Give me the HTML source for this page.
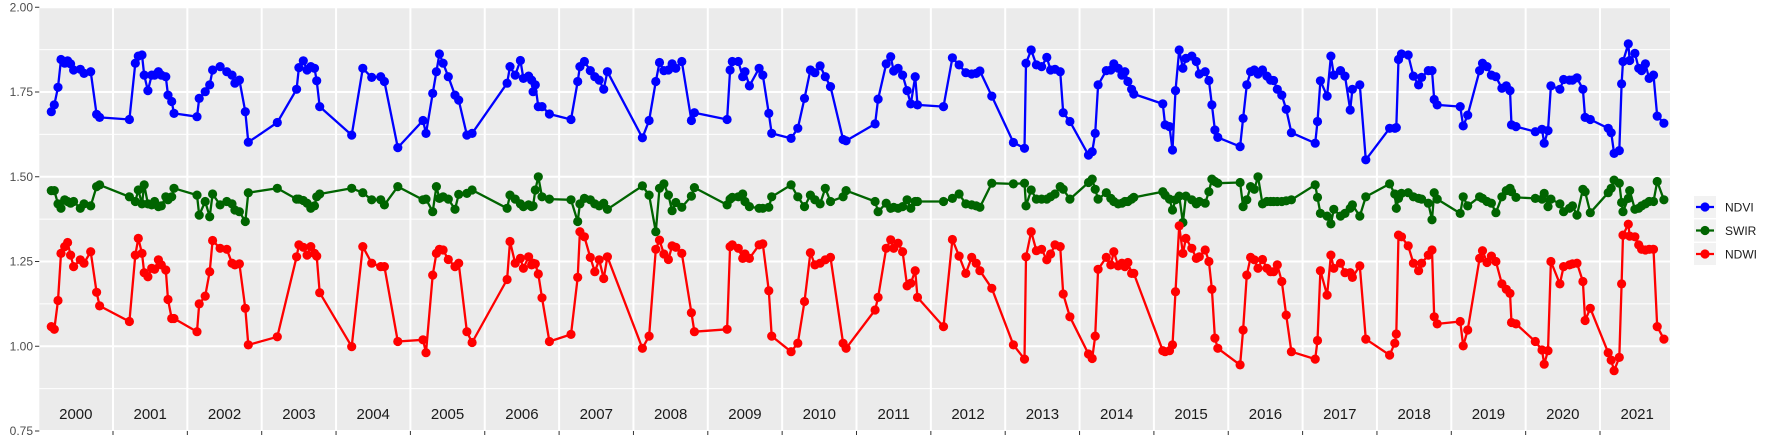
<!DOCTYPE html>
<html><head><meta charset="utf-8"><style>
html,body{margin:0;padding:0;background:#fff;}
svg{display:block;font-family:"Liberation Sans",sans-serif;}
</style></head><body>
<svg id="chart" width="1773" height="442" viewBox="0 0 1773 442" xmlns="http://www.w3.org/2000/svg">
<g id="panel"></g>
<g id="yaxis"></g>
<g id="xaxis"></g>
<g id="series"></g>
<g id="legend"></g>
</svg>
<script>
const dates = [
2000.17,2000.21,2000.26,2000.30,2000.35,2000.39,2000.43,2000.47,2000.56,2000.61,2000.70,2000.78,2000.82,
2001.22,2001.30,2001.34,2001.39,2001.42,2001.47,2001.52,2001.56,2001.61,2001.65,2001.71,2001.74,2001.79,2001.82,
2002.13,2002.16,2002.24,2002.30,2002.34,2002.44,2002.53,2002.60,2002.64,2002.70,2002.78,2002.82,
2003.21,2003.47,2003.50,2003.56,2003.61,2003.66,2003.71,2003.74,2003.78,
2004.21,2004.36,2004.48,2004.60,2004.65,2004.83,
2005.17,2005.21,2005.30,2005.35,2005.39,2005.44,2005.51,2005.60,2005.65,2005.76,2005.83,
2006.30,2006.34,2006.41,2006.48,2006.52,2006.59,2006.63,2006.65,2006.68,2006.72,2006.77,2006.87,
2007.16,2007.25,2007.28,2007.34,2007.42,2007.48,2007.54,2007.60,2007.65,
2008.12,2008.21,2008.30,2008.35,2008.41,2008.47,2008.52,2008.57,2008.65,2008.78,2008.82,
2009.26,2009.30,2009.33,2009.41,2009.47,2009.50,2009.56,2009.69,2009.74,2009.82,2009.86,
2010.12,2010.21,2010.30,2010.38,2010.44,2010.51,2010.58,2010.65,2010.82,2010.86,
2011.25,2011.29,2011.40,2011.46,2011.50,2011.56,2011.62,2011.68,2011.73,2011.79,2011.82,
2012.17,2012.29,2012.38,2012.47,2012.55,2012.61,2012.66,2012.82,
2013.11,2013.26,2013.28,2013.35,2013.42,2013.49,2013.56,2013.61,2013.67,2013.74,2013.78,2013.87,
2014.12,2014.17,2014.21,2014.25,2014.36,2014.42,2014.46,2014.52,2014.57,2014.61,2014.65,2014.70,2014.73,
2015.12,2015.15,2015.21,2015.25,2015.29,2015.34,2015.39,2015.43,2015.51,2015.57,2015.61,2015.69,2015.74,2015.78,2015.82,2015.86,
2016.16,2016.20,2016.25,2016.30,2016.35,2016.40,2016.46,2016.52,2016.57,2016.61,2016.66,2016.72,2016.78,2016.85,
2017.17,2017.20,2017.24,2017.33,2017.38,2017.42,2017.51,2017.57,2017.64,2017.67,2017.77,2017.85,
2018.17,2018.24,2018.26,2018.29,2018.33,2018.42,2018.49,2018.56,2018.60,2018.69,2018.74,2018.77,2018.81,
2019.12,2019.16,2019.22,2019.38,2019.42,2019.48,2019.54,2019.60,2019.68,2019.74,2019.79,2019.81,2019.87,
2020.13,2020.22,2020.25,2020.30,2020.34,2020.46,2020.51,2020.59,2020.63,2020.69,2020.77,2020.80,2020.87,
2021.11,2021.15,2021.19,2021.26,2021.29,2021.31,2021.38,2021.40,2021.47,2021.52,2021.56,2021.61,2021.66,2021.72,2021.77,2021.86
];
const ndvi = [
1.692,1.712,1.764,1.846,1.835,1.842,1.833,1.815,1.817,1.805,1.810,1.684,1.675,
1.669,1.835,1.856,1.859,1.800,1.754,1.800,1.800,1.810,1.800,1.795,1.741,1.722,1.687,
1.677,1.731,1.751,1.771,1.815,1.825,1.810,1.800,1.776,1.785,1.692,1.602,
1.660,1.758,1.822,1.842,1.815,1.825,1.820,1.783,1.707,
1.623,1.820,1.793,1.795,1.781,1.586,
1.666,1.628,1.746,1.810,1.862,1.835,1.795,1.741,1.726,1.623,1.628,
1.776,1.825,1.800,1.843,1.790,1.797,1.785,1.751,1.771,1.707,1.707,1.685,
1.669,1.781,1.825,1.840,1.813,1.795,1.785,1.758,1.810,
1.615,1.666,1.781,1.837,1.813,1.815,1.833,1.820,1.840,1.666,1.689,
1.669,1.815,1.840,1.840,1.795,1.810,1.768,1.820,1.800,1.687,1.628,
1.613,1.643,1.731,1.815,1.807,1.827,1.795,1.766,1.610,1.606,
1.656,1.729,1.833,1.854,1.812,1.820,1.800,1.754,1.715,1.795,1.712,
1.707,1.851,1.830,1.807,1.803,1.805,1.812,1.738,
1.601,1.584,1.835,1.874,1.830,1.825,1.852,1.815,1.817,1.810,1.689,1.663,
1.564,1.574,1.628,1.771,1.813,1.815,1.833,1.820,1.800,1.810,1.781,1.758,1.744,
1.715,1.653,1.648,1.579,1.754,1.874,1.820,1.849,1.856,1.840,1.803,1.810,1.784,1.712,1.638,1.616,
1.589,1.672,1.771,1.810,1.815,1.803,1.815,1.797,1.785,1.784,1.758,1.741,1.699,1.630,
1.599,1.663,1.783,1.738,1.856,1.800,1.813,1.797,1.697,1.758,1.771,1.550,
1.643,1.643,1.645,1.846,1.862,1.859,1.797,1.771,1.793,1.813,1.813,1.728,1.712,
1.707,1.650,1.682,1.813,1.835,1.825,1.800,1.795,1.761,1.768,1.754,1.653,1.648,
1.633,1.640,1.599,1.636,1.768,1.758,1.787,1.785,1.785,1.792,1.758,1.675,1.669,
1.643,1.630,1.569,1.577,1.774,1.840,1.892,1.843,1.864,1.820,1.813,1.833,1.790,1.800,1.679,1.658
];
const swir = [
1.459,1.459,1.420,1.407,1.432,1.427,1.422,1.427,1.407,1.420,1.414,1.471,1.476,
1.441,1.427,1.461,1.420,1.476,1.420,1.417,1.427,1.412,1.414,1.441,1.432,1.441,1.466,
1.446,1.387,1.427,1.382,1.449,1.417,1.427,1.420,1.402,1.397,1.368,1.453,
1.466,1.434,1.434,1.430,1.422,1.407,1.414,1.441,1.449,
1.466,1.453,1.432,1.432,1.417,1.471,
1.432,1.434,1.397,1.471,1.436,1.441,1.434,1.404,1.448,1.451,1.461,
1.407,1.446,1.434,1.420,1.412,1.417,1.412,1.414,1.461,1.500,1.441,1.434,
1.432,1.368,1.420,1.436,1.432,1.420,1.414,1.422,1.404,
1.473,1.446,1.338,1.466,1.479,1.446,1.400,1.424,1.410,1.443,1.468,
1.417,1.434,1.439,1.441,1.449,1.427,1.412,1.407,1.407,1.410,1.441,
1.476,1.441,1.412,1.446,1.432,1.420,1.466,1.427,1.441,1.459,
1.427,1.397,1.422,1.407,1.410,1.407,1.412,1.432,1.407,1.427,1.427,
1.427,1.436,1.449,1.420,1.417,1.414,1.410,1.481,
1.479,1.481,1.414,1.461,1.434,1.434,1.434,1.441,1.449,1.471,1.463,1.434,
1.483,1.493,1.463,1.434,1.453,1.436,1.427,1.420,1.422,1.427,1.427,1.434,1.439,
1.456,1.446,1.434,1.402,1.432,1.443,1.365,1.443,1.432,1.420,1.427,1.422,1.456,1.493,1.486,1.481,
1.483,1.412,1.432,1.471,1.463,1.500,1.420,1.427,1.427,1.427,1.427,1.427,1.429,1.432,
1.476,1.439,1.392,1.384,1.361,1.404,1.384,1.392,1.407,1.417,1.384,1.441,
1.479,1.449,1.407,1.436,1.451,1.453,1.441,1.436,1.434,1.422,1.373,1.453,1.434,
1.392,1.441,1.414,1.441,1.436,1.427,1.422,1.394,1.441,1.459,1.466,1.456,1.439,
1.436,1.434,1.451,1.412,1.434,1.420,1.397,1.407,1.414,1.387,1.463,1.456,1.394,
1.453,1.466,1.490,1.481,1.424,1.397,1.436,1.459,1.404,1.407,1.414,1.420,1.427,1.427,1.486,1.432
];
const ndwi = [
1.058,1.050,1.135,1.274,1.294,1.306,1.269,1.235,1.255,1.245,1.279,1.159,1.119,
1.073,1.269,1.318,1.274,1.217,1.205,1.230,1.227,1.255,1.240,1.225,1.138,1.082,1.082,
1.043,1.125,1.148,1.220,1.312,1.289,1.286,1.245,1.240,1.243,1.112,1.004,
1.028,1.264,1.299,1.292,1.269,1.294,1.274,1.266,1.158,
0.999,1.294,1.245,1.235,1.235,1.014,
1.019,0.981,1.210,1.274,1.286,1.284,1.256,1.235,1.245,1.043,1.011,
1.197,1.309,1.245,1.259,1.230,1.264,1.240,1.245,1.243,1.213,1.143,1.014,
1.035,1.203,1.338,1.323,1.262,1.220,1.255,1.200,1.264,
0.994,1.030,1.286,1.313,1.272,1.256,1.296,1.292,1.274,1.099,1.043,
1.050,1.294,1.299,1.289,1.259,1.272,1.259,1.299,1.302,1.164,1.030,
0.984,1.009,1.132,1.276,1.240,1.245,1.255,1.262,1.009,0.994,
1.107,1.144,1.289,1.314,1.289,1.304,1.279,1.178,1.186,1.223,1.144,
1.058,1.315,1.266,1.215,1.262,1.245,1.223,1.171,
1.004,0.962,1.264,1.338,1.282,1.286,1.255,1.272,1.299,1.294,1.154,1.087,
0.977,0.964,1.030,1.227,1.262,1.240,1.279,1.237,1.245,1.235,1.247,1.215,1.215,
0.987,0.984,0.987,1.004,1.161,1.355,1.274,1.318,1.289,1.259,1.264,1.284,1.250,1.168,1.024,0.994,
0.945,1.048,1.210,1.262,1.255,1.230,1.256,1.230,1.220,1.220,1.240,1.191,1.092,0.984,
0.962,1.017,1.223,1.151,1.269,1.230,1.245,1.217,1.217,1.203,1.237,1.021,
0.974,1.009,1.036,1.328,1.323,1.296,1.245,1.223,1.245,1.269,1.284,1.087,1.066,
1.073,1.001,1.048,1.259,1.282,1.247,1.266,1.250,1.184,1.168,1.156,1.070,1.066,
1.014,0.989,0.947,0.987,1.250,1.184,1.235,1.240,1.243,1.245,1.191,1.076,1.112,
0.981,0.959,0.928,0.967,1.184,1.328,1.360,1.325,1.323,1.299,1.286,1.284,1.286,1.286,1.058,1.021
];
const yTicks = [0.75, 1.00, 1.25, 1.50, 1.75, 2.00];
const yTickLabels = ["0.75", "1.00", "1.25", "1.50", "1.75", "2.00"];
const yearLabels = ["2000","2001","2002","2003","2004","2005","2006","2007","2008","2009","2010","2011","2012","2013","2014","2015","2016","2017","2018","2019","2020","2021"];
const seriesNames = ["NDVI", "SWIR", "NDWI"];

const NS = "http://www.w3.org/2000/svg";
const PL = 39.3, PR = 1670, PT = 7.3, PB = 431;
function xs(t){ return 38.65 + (t - 2000) * 74.35; }
function ys(v){ return PB - (v - 0.75) * 339; }
function mk(tag, attrs, parent){
  const e = document.createElementNS(NS, tag);
  for (const k in attrs) e.setAttribute(k, attrs[k]);
  parent.appendChild(e);
  return e;
}
const panel = document.getElementById('panel');
const bg = mk('rect', {x:PL, y:PT, width:PR-PL, height:PB-PT, fill:'#EBEBEB'}, panel);


for (let i = 0; i < yTicks.length - 1; i++) {
  const v = (yTicks[i] + yTicks[i+1]) / 2;
  const l = mk('line', {x1:PL, x2:PR, y1:ys(v), y2:ys(v), stroke:'#fff', 'stroke-width':1}, panel);
  
  
}
yTicks.forEach(v => {
  const l = mk('line', {x1:PL, x2:PR, y1:ys(v), y2:ys(v), stroke:'#fff', 'stroke-width':2}, panel);
  
  
});
const yax = document.getElementById('yaxis');
yTicks.forEach((v, i) => {
  const t = mk('line', {x1:35, x2:PL, y1:ys(v), y2:ys(v), stroke:'#333', 'stroke-width':1}, yax);
  
  
  const tx = mk('text', {x:33, y:ys(v)+4, 'text-anchor':'end', 'font-size':12, fill:'#4D4D4D'}, yax);
  tx.textContent = yTickLabels[i];
  
  
});
const xax = document.getElementById('xaxis');
yearLabels.forEach((lab, i) => {
  const y0 = 2000 + i;
  if (i > 0) {
    const g = mk('line', {x1:xs(y0), x2:xs(y0), y1:PT, y2:PB, stroke:'#fff', 'stroke-width':2}, panel);
    
    
    const tk = mk('line', {x1:xs(y0), x2:xs(y0), y1:PB, y2:PB+4, stroke:'#333', 'stroke-width':1}, xax);
    
    
  }
  const tx = mk('text', {x:xs(y0+0.5), y:419, 'text-anchor':'middle', 'font-size':15, fill:'#1A1A1A'}, xax);
  tx.textContent = lab;
  
  
});
const sg = document.getElementById('series');
const colors = ['#0000FF', '#006400', '#FF0000'];
[ndvi, swir, ndwi].forEach((vals, si) => {
  const n = Math.min(vals.length, dates.length);
  const g = mk('g', {}, sg);
  
  
  let d = '';
  for (let i = 0; i < n; i++) d += (i ? 'L' : 'M') + xs(dates[i]).toFixed(1) + ',' + ys(vals[i]).toFixed(1);
  const p = mk('path', {d:d, fill:'none', stroke:colors[si], 'stroke-width':2.3, 'stroke-linejoin':'round'}, g);
  
  
  for (let i = 0; i < n; i++) {
    const c = mk('circle', {cx:xs(dates[i]).toFixed(1), cy:ys(vals[i]).toFixed(1), r:4.6, fill:colors[si]}, g);
    
    
  }
});
const lg = document.getElementById('legend');
seriesNames.forEach((nm, i) => {
  const cy = 207 + i * 23.5;
  const e = mk('g', {}, lg);
  
  
  mk('rect', {x:1694, y:cy-11, width:22, height:22, fill:'#F2F2F2'}, e);
  mk('line', {x1:1696, x2:1714, y1:cy, y2:cy, stroke:colors[i], 'stroke-width':2.3}, e);
  mk('circle', {cx:1705, cy:cy, r:4.6, fill:colors[i]}, e);
  const t = mk('text', {x:1725, y:cy+4.5, 'font-size':12, fill:'#1A1A1A'}, e);
  t.textContent = nm;
});
</script>
</body></html>
